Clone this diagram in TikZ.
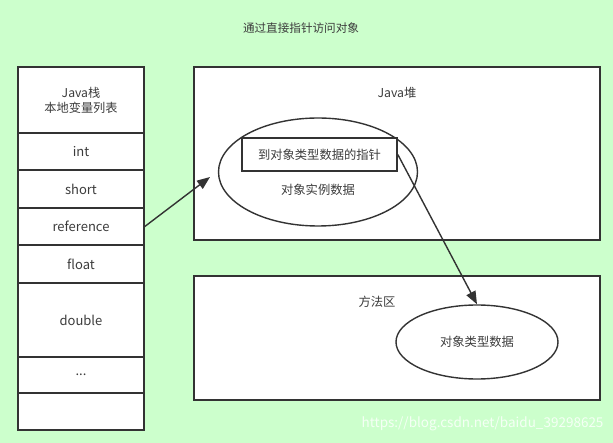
\documentclass[tikz,border=0pt]{standalone}
\usepackage{fontspec}
\setmainfont{Noto Sans CJK SC}
\usepackage{tikz}
\usetikzlibrary{arrows.meta,positioning,shapes.geometric}

\definecolor{bggreen}{RGB}{204,255,204}
\definecolor{ink}{RGB}{51,51,51}
\definecolor{txt}{RGB}{60,60,60}

\tikzset{
  cell/.style={draw=ink, line width=1.6pt, fill=white, minimum width=126pt,
    inner sep=0pt, text=txt, font=\fontsize{13pt}{15pt}\selectfont},
  area/.style={draw=ink, line width=1.6pt, fill=white},
  blob/.style={ellipse, draw=ink, line width=1.4pt, fill=white, inner sep=0pt},
  lbl/.style={text=txt, font=\fontsize{12.3pt}{14pt}\selectfont},
  link/.style={draw=ink, line width=1.4pt, -{Triangle[length=13pt,width=10pt]}}
}

\begin{document}
\begin{tikzpicture}[x=1pt,y=-1pt]
    % background and page size
    \fill[bggreen] (0,0) rectangle (613,443);
    \useasboundingbox (0,0) rectangle (613,443);
    \node[lbl, font=\fontsize{11.6pt}{13pt}\selectfont] (title) at (301,28) {通过直接指针访问对象};

    % Java stack
    \node[cell, minimum height=66pt, align=center, font=\fontsize{12.2pt}{15pt}\selectfont] (hdr) at (81,100) {Java栈\\本地变量列表};
    \node[cell, minimum height=37.5pt] (rint) at (81,151.5) {int};
    \node[cell, minimum height=37.5pt] (rshort) at (81,189) {short};
    \node[cell, minimum height=37.5pt] (rref) at (81,226.5) {reference};
    \node[cell, minimum height=37.5pt] (rfloat) at (81,264) {float};
    \node[cell, minimum height=74pt] (rdouble) at (81,320) {double};
    \node[cell, minimum height=36.5pt] (rdots) at (81,375) {...};
    \node[cell, minimum height=36.5pt] (rempty) at (81,411.5) {};

    % Java heap
    \draw[area] (194,67) rectangle (600,240);
    \node[lbl] (heap) at (397,93) {Java堆};
    \node[blob, minimum width=199pt, minimum height=108pt] (obj) at (318,172) {};
    \node[draw=ink, line width=1.6pt, fill=white, minimum width=155pt,
      minimum height=33pt, lbl] (ptr) at (319.5,154.5) {到对象类型数据的指针};
    \node[lbl] (inst) at (318,190) {对象实例数据};

    % method area
    \draw[area] (194,276) rectangle (600,400);
    \node[lbl] (meth) at (377,302) {方法区};
    \node[blob, minimum width=162pt, minimum height=74pt, lbl] (cls) at (477,342) {对象类型数据};

    % pointers
    \coordinate (hit) at (210,177);
    \draw[link] (rref.east) -- (hit);
    \draw[link] (ptr.east) -- (cls.north);

    \node[anchor=east, text=white, opacity=0.8,
      font=\fontsize{13.5pt}{15pt}\selectfont] (mark) at (607,424) {https://blog.csdn.net/baidu\_39298625};
\end{tikzpicture}
\end{document}
